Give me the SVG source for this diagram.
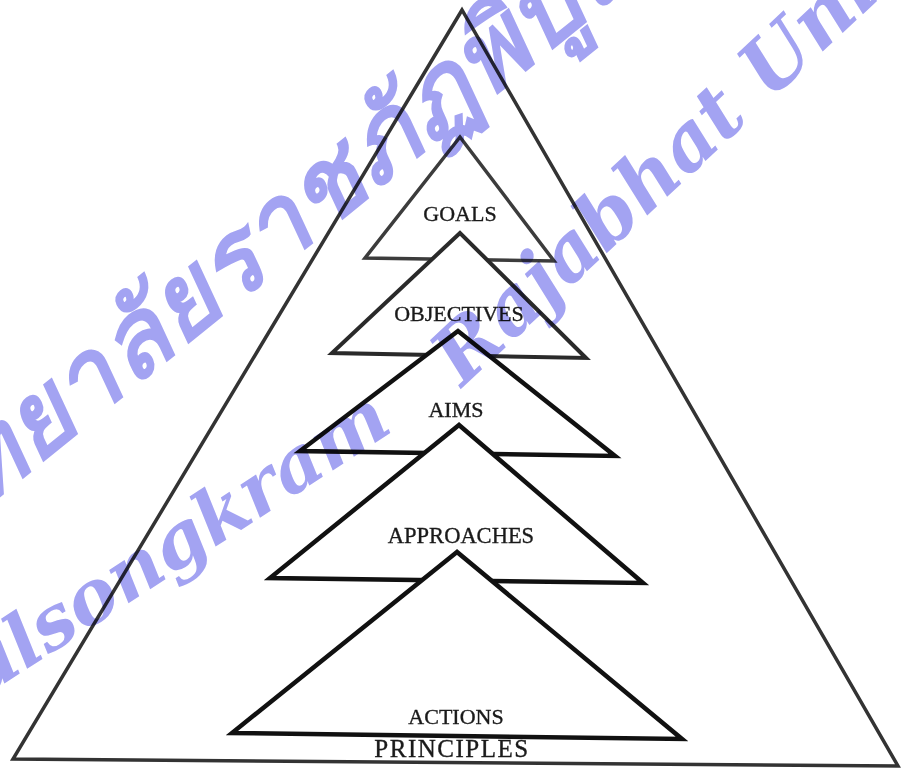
<svg xmlns="http://www.w3.org/2000/svg" width="901" height="770" viewBox="0 0 901 770">
<style>
.tri{fill:#fff;stroke:#111;stroke-width:4.5;stroke-linejoin:miter;stroke-miterlimit:20}
.outer{fill:#fff;stroke:#333;stroke-width:3.5;stroke-linejoin:miter;stroke-miterlimit:20}
.lbl{font-family:"Liberation Serif","Times New Roman",serif;font-size:22px;fill:#1a1a1a;text-anchor:middle;stroke:#1a1a1a;stroke-width:0.35}
.wm{font-family:"DejaVu Serif","Liberation Serif",serif;font-style:italic;font-weight:bold;fill:#a3a3f2;mix-blend-mode:multiply}
</style>
<rect x="0" y="0" width="901" height="770" fill="#fff"/>
<g id="principles">
<polygon class="outer" points="462,10 13,759 898,766"/>
</g>
<g id="goals">
<polygon class="tri" style="stroke:#3c3c3c;stroke-width:3.5" points="460,137 365,258 554,261"/>
<text class="lbl" x="460" y="221">GOALS</text>
</g>
<g id="objectives">
<polygon class="tri" style="stroke:#2a2a2a;stroke-width:4" points="460,233 332,353 586,358"/>
<text class="lbl" x="459" y="321">OBJECTIVES</text>
</g>
<g id="aims">
<polygon class="tri" points="458,331 300,451 615,456"/>
<text class="lbl" x="456" y="417">AIMS</text>
</g>
<g id="approaches">
<polygon class="tri" points="459,425 270,578 643,583"/>
<text class="lbl" x="461" y="543" style="font-size:22.5px">APPROACHES</text>
</g>
<g id="actions">
<polygon class="tri" points="457,552 232,733 682,739"/>
<text class="lbl" x="456" y="724">ACTIONS</text>
</g>
<text class="lbl" x="452" y="757" style="font-size:25px;letter-spacing:1.5px">PRINCIPLES</text>
<g id="watermark">
<text class="wm" font-size="103" letter-spacing="2" text-anchor="end" transform="translate(36,466) rotate(-39)">มหาวิท</text>
<text class="wm" font-size="103" letter-spacing="2" transform="translate(36,466) rotate(-39)">ยาลัยราชภัฏพิบูลสงคราม</text>
<text class="wm" font-size="74" text-anchor="end" transform="translate(395,430) rotate(-33)">Pibulsongkram</text>
<text class="wm" font-size="78" transform="translate(462,388) rotate(-43)">Rajabhat University</text>
</g>
</svg>
